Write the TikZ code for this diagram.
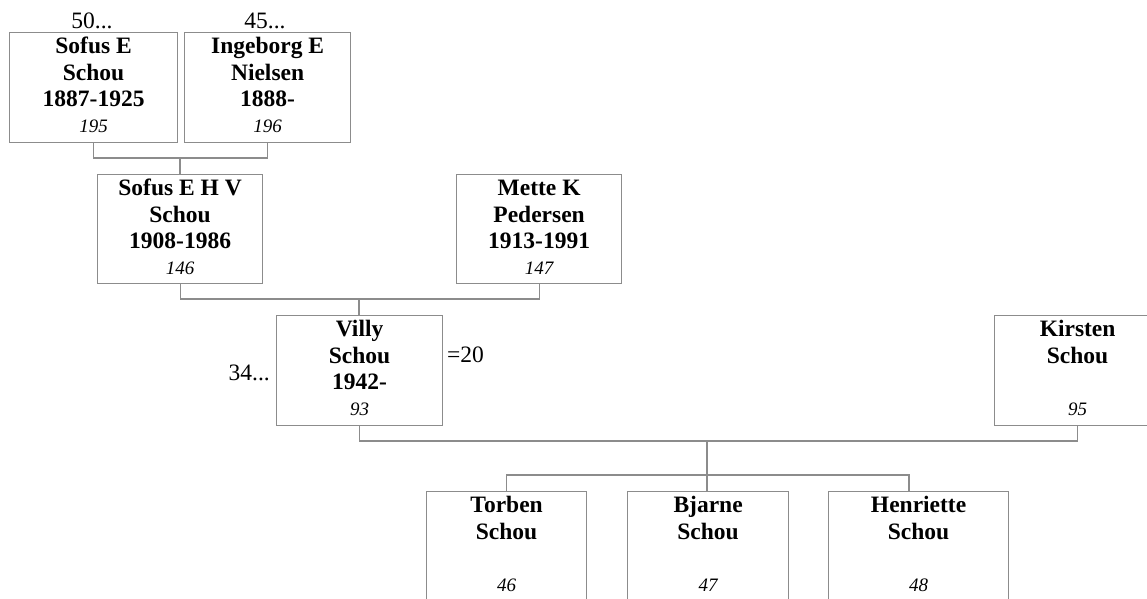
\documentclass[tikz,border=0pt]{standalone}
\usepackage{fontspec}
\setmainfont{Liberation Serif}
\definecolor{lc}{RGB}{140,140,140}
\tikzset{
  pbox/.style={draw=lc, line width=1.2pt, inner sep=0pt, anchor=north west},
  conn/.style={draw=lc, line width=1.2pt},
  nm/.style={font=\fontsize{23.5}{26}\selectfont\bfseries, inner sep=0pt, anchor=base},
  num/.style={font=\fontsize{19}{22}\selectfont\itshape, inner sep=0pt, anchor=base},
  gen/.style={font=\fontsize{23.5}{26}\selectfont, inner sep=0pt, anchor=base},
}
% name, x1, y1, x2, y2, line1, line2, line3
\newcommand\personthree[9]{%
  \node[pbox, minimum width={#4-#2}, minimum height={#5-#3}] (#1) at (#2,#3) {};
  \node[nm, yshift=-21pt] (#1-a) at (#1.north) {#6};
  \node[nm, yshift=-48pt] (#1-b) at (#1.north) {#7};
  \node[nm, yshift=-74.5pt] (#1-c) at (#1.north) {#8};
  \node[num, yshift=-100pt] (#1-n) at (#1.north) {#9};
}
\newcommand\persontwo[8]{%
  \node[pbox, minimum width={#4-#2}, minimum height={#5-#3}] (#1) at (#2,#3) {};
  \node[nm, yshift=-21pt] (#1-a) at (#1.north) {#6};
  \node[nm, yshift=-48pt] (#1-b) at (#1.north) {#7};
  \node[num, yshift=-100.5pt] (#1-n) at (#1.north) {#8};
}
\begin{document}
\begin{tikzpicture}[x=1pt, y=-1pt]
  \useasboundingbox (0,0) rectangle (1147,598);
  \clip (0,0) rectangle (1147,598);

  % grandparents
  \personthree{gf}{9}{32}{177}{142}{Sofus E}{Schou}{1887-1925}{195}
  \personthree{gm}{184}{32}{350}{142}{Ingeborg E}{Nielsen}{1888-}{196}
  \node[gen] (gf-up) at (92,28) {50...};
  \node[gen] (gm-up) at (265,28) {45...};

  % parents
  \personthree{fa}{97}{174}{262}{283}{Sofus E H V}{Schou}{1908-1986}{146}
  \personthree{mo}{456}{174}{621}{283}{Mette K}{Pedersen}{1913-1991}{147}

  % couple
  \personthree{vi}{276}{315}{442}{425}{Villy}{Schou}{1942-}{93}
  \persontwo{ki}{994}{315}{1160}{425}{Kirsten}{Schou}{95}
  \node[gen, anchor=base east] (vi-up) at (270,380) {34...};
  \node[gen, anchor=base west] (vi-mar) at (447,362) {=20};

  % children
  \persontwo{c1}{426}{491}{586}{612}{Torben}{Schou}{46}
  \persontwo{c2}{627}{491}{788}{612}{Bjarne}{Schou}{47}
  \persontwo{c3}{828}{491}{1008}{612}{Henriette}{Schou}{48}

  % connectors
  \coordinate (j1) at (180,158);
  \draw[conn] (gf.south) |- (j1) -| (gm.south);
  \draw[conn] (j1) -- (j1 |- fa.north);

  \coordinate (j2) at (359,299);
  \draw[conn] (fa.south) |- (j2) -| (mo.south);
  \draw[conn] (j2) -- (j2 |- vi.north);

  \coordinate (j3) at (707,441);
  \draw[conn] (vi.south) |- (j3) -| (ki.south);
  \coordinate (j4) at (707,475);
  \draw[conn] (j3) -- (j4);
  \coordinate (c3top) at (909,491);
  \draw[conn] (c1.north) |- (j4) -| (c3top);
  \draw[conn] (j4) -- (j4 |- c2.north);
\end{tikzpicture}
\end{document}
